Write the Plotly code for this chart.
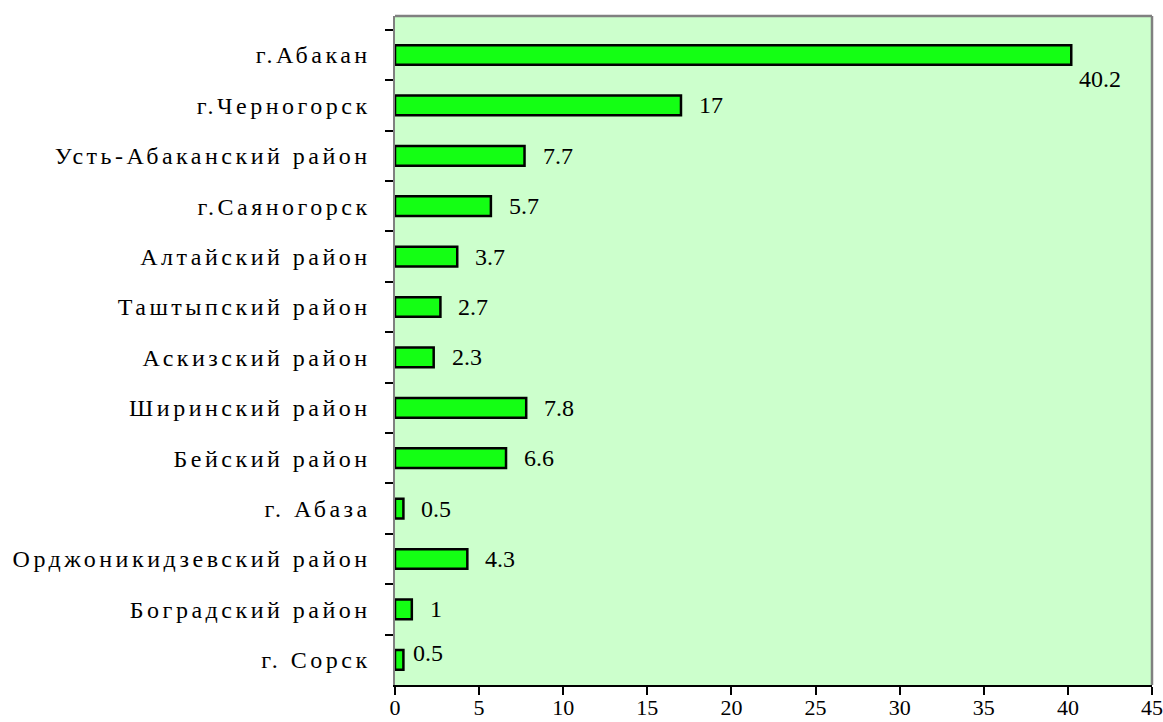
import plotly.graph_objects as go

categories = [
    "г.Абакан",
    "г.Черногорск",
    "Усть-Абаканский район",
    "г.Саяногорск",
    "Алтайский район",
    "Таштыпский район",
    "Аскизский район",
    "Ширинский район",
    "Бейский район",
    "г. Абаза",
    "Орджоникидзевский район",
    "Боградский район",
    "г. Сорск",
]
values = [40.2, 17, 7.7, 5.7, 3.7, 2.7, 2.3, 7.8, 6.6, 0.5, 4.3, 1, 0.5]
value_labels = ["40.2", "17", "7.7", "5.7", "3.7", "2.7", "2.3", "7.8", "6.6", "0.5", "4.3", "1", "0.5"]
x_ticks = [0, 5, 10, 15, 20, 25, 30, 35, 40, 45]

FONT = "Liberation Serif"

fig = go.Figure(
    go.Bar(
        x=values,
        y=categories,
        orientation="h",
        width=0.39,
        marker=dict(color="#14ff14", line=dict(color="#000000", width=2.5)),
        hoverinfo="x+y",
    )
)

shifts = {0: (6, -24), 12: (8, 7)}
for i, (v, c, t) in enumerate(zip(values, categories, value_labels)):
    xs, ys = shifts.get(i, (16, 0))
    fig.add_annotation(
        x=v, y=c, text=t, showarrow=False, xanchor="left", yanchor="middle",
        xshift=xs, yshift=ys, font=dict(family=FONT, size=24, color="#000000"),
    )

fig.update_layout(
    width=1163,
    height=722,
    margin=dict(l=395, r=11, t=16, b=37, autoexpand=False),
    paper_bgcolor="#ffffff",
    plot_bgcolor="#ccffcc",
    showlegend=False,
    font=dict(family=FONT),
    xaxis=dict(
        range=[0, 45],
        tickvals=x_ticks,
        ticktext=[str(t) for t in x_ticks],
        ticks="outside",
        ticklen=8,
        tickwidth=1.5,
        tickcolor="#000000",
        showgrid=False,
        zeroline=False,
        showline=True,
        linecolor="#000000",
        linewidth=1.5,
        ticklabelstandoff=-6,
        tickfont=dict(family=FONT, size=22, color="#000000"),
        fixedrange=True,
    ),
    yaxis=dict(
        categoryorder="array",
        categoryarray=categories,
        autorange="reversed",
        ticks="outside",
        tickson="boundaries",
        ticklen=8,
        tickwidth=1.5,
        tickcolor="#000000",
        showgrid=False,
        showline=True,
        linecolor="#808080",
        linewidth=2,
        ticklabelstandoff=21,
        tickfont=dict(family=FONT, size=24, color="#000000"),
        fixedrange=True,
    ),
    shapes=[
        dict(type="line", xref="paper", yref="paper", x0=0, x1=1, y0=1, y1=1,
             line=dict(color="#808080", width=2.5)),
        dict(type="line", xref="paper", yref="paper", x0=1, x1=1, y0=0, y1=1,
             line=dict(color="#808080", width=2.5)),
    ],
)

post = """
document.body.style.margin='0';
document.querySelectorAll('.ytick text').forEach(function(t){
  var s = t.textContent;
  while (t.firstChild) t.removeChild(t.firstChild);
  for (var i = 0; i < s.length; i++) {
    var ts = document.createElementNS('http://www.w3.org/2000/svg', 'tspan');
    if (i > 0) ts.setAttribute('dx', '3.5');
    ts.textContent = s[i];
    t.appendChild(ts);
  }
});
"""

fig.write_html("out.html", post_script=post, config={"displayModeBar": False})
